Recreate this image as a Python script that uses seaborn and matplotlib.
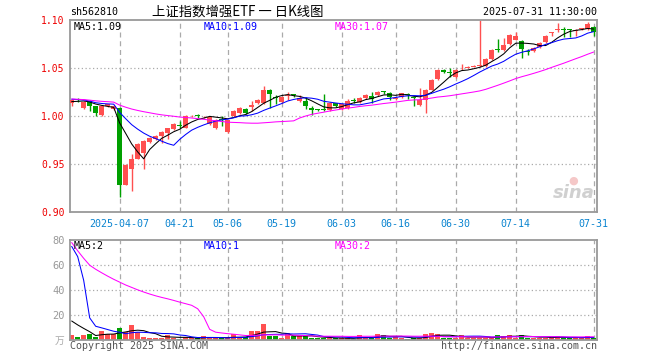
import numpy as np
import pandas as pd
import matplotlib
matplotlib.use("Agg")
import matplotlib.pyplot as plt
import seaborn as sns

# ---------------- data ----------------
holidays = ["2025-04-04", "2025-05-01", "2025-05-02", "2025-05-05", "2025-06-02"]
tick_dates = ["2025-04-07", "2025-04-21", "2025-05-06", "2025-05-19", "2025-06-03",
              "2025-06-16", "2025-06-30", "2025-07-14", "2025-07-31"]

open_ = [1.014, 1.0177, 1.008, 1.016, 1.010, 1.001, 1.010, 1.007, 1.008, 0.9285,
         0.945, 0.9555, 0.961, 0.973, 0.976, 0.979, 0.982, 0.986, 0.9905, 0.9875,
         0.9995, 1.0003, 0.9985, 0.992, 0.9875, 0.9965, 0.983, 1.000, 1.0035, 1.0075,
         1.009, 1.0135, 1.0135, 1.027, 1.0195, 1.015, 1.021, 1.0222, 1.016, 1.016,
         1.008, 1.0062, 1.0067, 1.006, 1.0135, 1.007, 1.008, 1.0162, 1.015, 1.019,
         1.021, 1.022, 1.0252, 1.024, 1.018, 1.020, 1.0222, 1.0187, 1.011, 1.017,
         1.0275, 1.0385, 1.048, 1.0452, 1.041, 1.0495, 1.0505, 1.0515, 1.052, 1.052,
         1.059, 1.0692, 1.069, 1.075, 1.0795, 1.078, 1.0672, 1.068, 1.072, 1.077,
         1.0865, 1.0895, 1.0902, 1.0902, 1.0885, 1.0905, 1.091, 1.093]
close = [1.017, 1.0173, 1.015, 1.010, 1.003, 1.010, 1.012, 1.010, 0.9285, 0.949,
         0.955, 0.9705, 0.974, 0.977, 0.979, 0.983, 0.987, 0.992, 0.990, 1.000,
         1.000, 1.000, 0.999, 0.999, 0.996, 0.996, 0.9955, 1.0055, 1.008, 1.003,
         1.011, 1.017, 1.0275, 1.023, 1.019, 1.020, 1.022, 1.022, 1.019, 1.010,
         1.006, 1.006, 1.0065, 1.014, 1.010, 1.0125, 1.016, 1.016, 1.019, 1.022,
         1.018, 1.0255, 1.025, 1.020, 1.019, 1.0235, 1.022, 1.0185, 1.017, 1.0275,
         1.038, 1.048, 1.0455, 1.045, 1.048, 1.050, 1.051, 1.052, 1.0525, 1.059,
         1.069, 1.069, 1.074, 1.084, 1.083, 1.070, 1.067, 1.071, 1.076, 1.083,
         1.087, 1.090, 1.090, 1.090, 1.089, 1.091, 1.096, 1.087]
high = [1.018, 1.019, 1.016, 1.017, 1.010, 1.011, 1.013, 1.011, 1.009, 0.950,
        0.960, 0.972, 0.975, 0.978, 0.980, 0.984, 0.988, 0.993, 0.995, 1.001,
        1.001, 1.002, 1.000, 1.000, 0.997, 0.9995, 0.996, 1.006, 1.009, 1.008,
        1.0155, 1.018, 1.031, 1.028, 1.0215, 1.021, 1.0255, 1.023, 1.022, 1.0195,
        1.0105, 1.007, 1.023, 1.015, 1.014, 1.013, 1.018, 1.019, 1.020, 1.023,
        1.0255, 1.026, 1.026, 1.0255, 1.020, 1.024, 1.0235, 1.021, 1.029, 1.028,
        1.039, 1.049, 1.049, 1.050, 1.049, 1.054, 1.052, 1.053, 1.100, 1.060,
        1.070, 1.080, 1.081, 1.085, 1.087, 1.079, 1.070, 1.072, 1.077, 1.084,
        1.088, 1.097, 1.093, 1.091, 1.091, 1.092, 1.098, 1.094]
low = [1.010, 1.015, 1.007, 1.005, 1.000, 1.000, 1.009, 1.006, 0.916, 0.928,
       0.922, 0.955, 0.945, 0.972, 0.975, 0.972, 0.976, 0.985, 0.988, 0.987,
       0.999, 0.998, 0.998, 0.991, 0.986, 0.990, 0.982, 0.999, 1.002, 1.002,
       1.005, 1.013, 1.013, 1.008, 1.0125, 1.014, 1.0165, 1.020, 1.015, 1.0075,
       1.001, 1.005, 1.005, 1.005, 1.009, 1.006, 1.007, 1.0135, 1.014, 1.018,
       1.0135, 1.021, 1.023, 1.017, 1.017, 1.019, 1.018, 1.010, 1.010, 1.003,
       1.027, 1.038, 1.045, 1.041, 1.040, 1.048, 1.050, 1.051, 1.0515, 1.051,
       1.058, 1.067, 1.068, 1.074, 1.079, 1.060, 1.064, 1.067, 1.071, 1.076,
       1.083, 1.087, 1.082, 1.082, 1.083, 1.090, 1.090, 1.083]
volume = [4.0, 2.4, 4.0, 4.8, 2.7, 7.2, 4.5, 4.5, 9.6, 6.4,
          12.0, 6.7, 2.7, 1.9, 1.9, 1.9, 4.0, 1.9, 0.8, 2.1,
          1.3, 1.3, 3.2, 2.0, 1.6, 1.3, 1.3, 4.8, 2.0, 2.4,
          7.2, 7.2, 12.8, 3.2, 3.2, 1.3, 5.3, 3.2, 3.2, 3.2,
          1.9, 1.9, 1.3, 2.0, 1.3, 1.3, 1.3, 0.8, 4.0, 2.7,
          1.3, 4.8, 4.0, 1.9, 2.7, 1.3, 0.8, 1.3, 1.9, 4.8,
          5.9, 4.8, 1.9, 1.9, 1.9, 4.0, 1.9, 1.9, 1.9, 1.9,
          1.9, 4.0, 3.2, 4.0, 1.9, 4.0, 1.9, 1.9, 1.9, 1.9,
          1.9, 3.2, 1.3, 1.3, 1.9, 1.9, 3.2, 1.3]
# closes / volumes of the 29 sessions before the visible window (feed the moving averages)
pre_close = [1.026, 1.025, 1.027, 1.024, 1.026, 1.023, 1.024, 1.022,
             1.014, 1.012, 1.015, 1.013, 1.011, 1.014, 1.012, 1.010, 1.013, 1.015, 1.014, 1.016,
             1.021, 1.019, 1.022, 1.020, 1.018,
             1.016, 1.013, 1.015, 1.014]
pre_volume = [200, 185, 170, 100, 92, 85, 80, 78, 75, 70, 65, 55, 50, 45, 40, 38, 40, 42,
              40, 40, 84, 194, 305, 70, 20, 18, 18, 18, 18]

code = "sh562810"
title = "上证指数增强ETF 一 日K线图"
stamp = "2025-07-31 11:30:00"
price_ma_labels = ["MA5:1.09", "MA10:1.09", "MA30:1.07"]
vol_ma_labels = ["MA5:2", "MA10:1", "MA30:2"]

# ---------------- derived ----------------
dates = pd.bdate_range("2025-03-25", "2025-07-31")
dates = dates[~dates.isin(pd.to_datetime(holidays))]
n = len(close)
idx = np.arange(n)
date_str = [d.strftime("%Y-%m-%d") for d in dates]
tick_idx = [date_str.index(t) for t in tick_dates]
tick_lab = [tick_dates[0]] + [t[5:] for t in tick_dates[1:]]

npre = len(pre_close)
allc = pd.Series(pre_close + close)
allv = pd.Series(pre_volume + volume, dtype=float)
mas = {w: allc.rolling(w).mean().values[npre:] for w in (5, 10, 30)}
vmas = {w: allv.rolling(w).mean().values[npre:] for w in (5, 10, 30)}

df = pd.DataFrame({"i": idx, "open": open_, "close": close, "high": high,
                   "low": low, "vol": volume})
up = df["close"] >= df["open"]

RED = "#ff5050"
GREEN = "#00a000"
MA_COLORS = {5: "#000000", 10: "#0000ff", 30: "#ff00ff"}
GRID = "#aaaaaa"
SPINE = "#999999"

sns.set_style("white")
plt.rcParams["font.family"] = ["DejaVu Sans Mono", "Noto Sans CJK SC"]

W, H = 660, 360
fig = plt.figure(figsize=(W / 100, H / 100), dpi=100)

def box(l, t, r, b):
    return [l / W, 1 - b / H, (r - l) / W, (b - t) / H]

ax = fig.add_axes(box(70, 20, 597, 212))
axv = fig.add_axes(box(70, 240, 597, 340))

xl = (-0.28, 87.55)
for a in (ax, axv):
    a.set_xlim(*xl)
    for s in a.spines.values():
        s.set_color(SPINE)
        s.set_linewidth(1.3)
    for t in tick_idx:
        a.axvline(t, color=GRID, lw=0.9, ls=(0, (4, 3)), zorder=0)

# ----- price panel -----
ax.set_ylim(0.90, 1.10)
for yv in (0.95, 1.00, 1.05):
    ax.axhline(yv, color=GRID, lw=0.9, ls=(0, (1, 2)), zorder=0)

colors = np.where(up, RED, GREEN)
ax.vlines(df["i"], df["low"], df["high"], colors=colors, lw=1.0, zorder=2)
body_lo = np.minimum(df["open"], df["close"])
body_h = np.maximum(np.abs(df["close"] - df["open"]), 0.0009)
ax.bar(df["i"], body_h, bottom=body_lo, width=0.78, color=colors, linewidth=0, zorder=3)

for w in (5, 10, 30):
    sns.lineplot(x=idx, y=mas[w], ax=ax, color=MA_COLORS[w], linewidth=0.75, zorder=4)

ax.set_yticks([0.90, 0.95, 1.00, 1.05, 1.10])
ax.set_yticklabels([f"{v:.2f}" for v in [0.90, 0.95, 1.00, 1.05, 1.10]],
                   color="#ee0000", fontsize=7)
ax.set_xticks(tick_idx)
ax.set_xticklabels(tick_lab, color="#0a84d0", fontsize=7.2)
ax.tick_params(axis="both", length=0, pad=4)
ax.tick_params(axis="x", pad=5)
ax.set_xlabel("")
ax.set_ylabel("")

# sina watermark
ax.text(0.995, 0.05, "sina", transform=ax.transAxes, ha="right", va="bottom",
        fontsize=13, fontweight="bold", fontstyle="italic", color="#d0d0d0",
        family="DejaVu Sans", zorder=1)
ax.text(0.955, 0.165, "●", transform=ax.transAxes, ha="center", va="center",
        fontsize=8, color="#f5c8c8", family="DejaVu Sans", zorder=1)

# ----- volume panel -----
axv.set_ylim(0, 80)
for yv in (20, 40, 60):
    axv.axhline(yv, color=GRID, lw=0.9, ls=(0, (1, 2)), zorder=0)
axv.bar(df["i"], df["vol"], width=0.78, color=colors, linewidth=0, zorder=2)
for w in (5, 10, 30):
    sns.lineplot(x=idx, y=vmas[w], ax=axv, color=MA_COLORS[w], linewidth=0.75, zorder=4)
axv.set_yticks([20, 40, 60, 80])
axv.set_yticklabels(["20", "40", "60", "80"], color="#999999", fontsize=7.5)
axv.set_xticks([])
axv.tick_params(axis="both", length=0, pad=4)
axv.set_xlabel("")
axv.set_ylabel("")

# ----- texts -----
def ftext(x, y, s, **kw):
    fig.text(x / W, 1 - y / H, s, **kw)

ftext(70, 12, code, ha="left", va="center", fontsize=7.2, color="#000000")
ftext(152, 12, title, ha="left", va="center", fontsize=9.6, color="#000000",
      family=["Noto Sans CJK SC", "DejaVu Sans"])
ftext(597, 12, stamp, ha="right", va="center", fontsize=7.2, color="#000000")

xs = [74, 204, 335]
for x, s, w in zip(xs, price_ma_labels, (5, 10, 30)):
    ftext(x, 27, s, ha="left", va="center", fontsize=7.2, color=MA_COLORS[w])
for x, s, w in zip(xs, vol_ma_labels, (5, 10, 30)):
    ftext(x, 246, s, ha="left", va="center", fontsize=7.2, color=MA_COLORS[w])

ftext(64, 341, "万", ha="right", va="center", fontsize=7, color="#aaaaaa",
      family=["Noto Sans CJK SC", "DejaVu Sans"])
ftext(70, 346, "Copyright 2025 SINA.COM", ha="left", va="center", fontsize=7.2,
      color="#555555")
ftext(597, 346, "http://finance.sina.com.cn", ha="right", va="center", fontsize=7.2,
      color="#555555")

fig.savefig("out.png", dpi=100)
